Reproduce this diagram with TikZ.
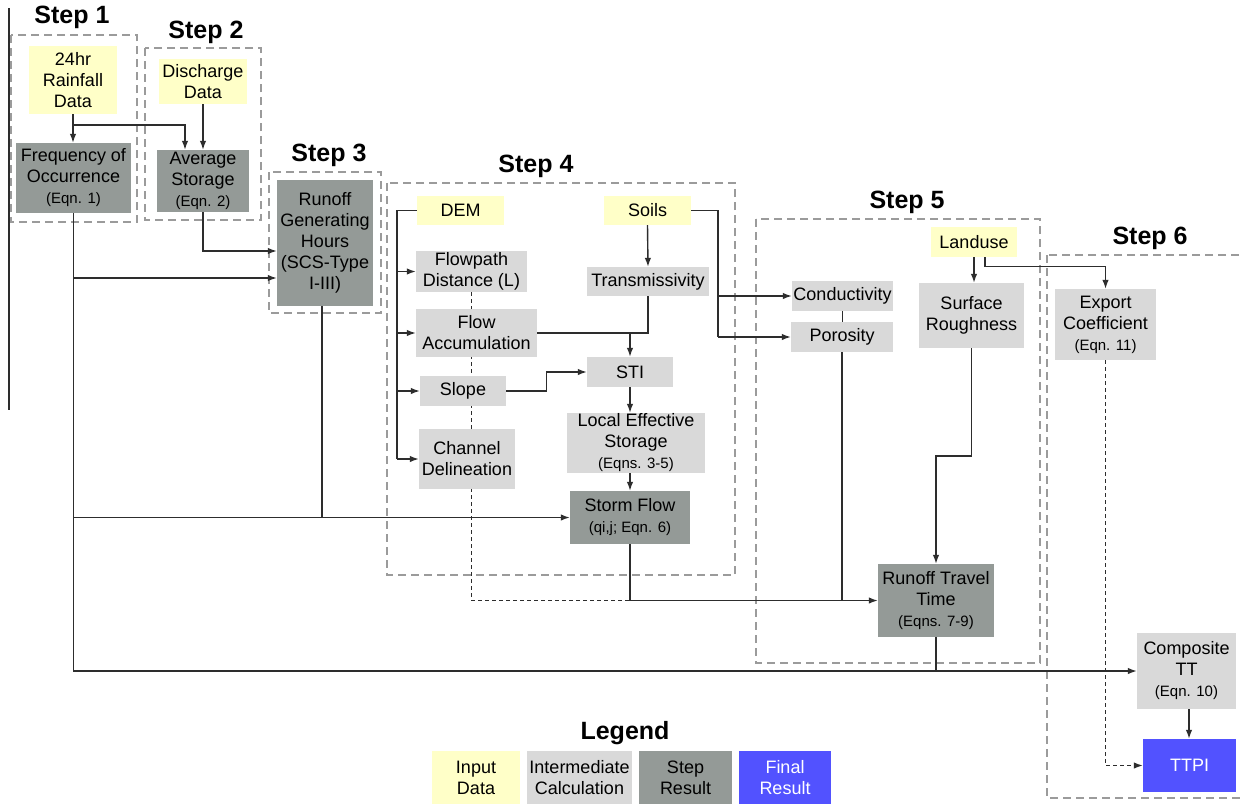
\documentclass[tikz,border=0pt]{standalone}
\usepackage{fontspec}
\setmainfont{Liberation Sans}
\usetikzlibrary{arrows.meta,backgrounds}
\definecolor{inp}{RGB}{255,255,200}
\definecolor{mid}{RGB}{217,217,217}
\definecolor{res}{RGB}{148,154,151}
\definecolor{fin}{RGB}{82,82,255}
\definecolor{stepc}{RGB}{155,155,155}
\definecolor{con}{RGB}{45,45,45}
\newcommand{\eqnsmall}[1]{{\fontsize{15}{18}\selectfont #1}}
\begin{document}
\begin{tikzpicture}[x=1pt,y=1pt,
  box/.style={inner sep=0pt, align=center, font=\fontsize{18}{21}\selectfont, text=black},
  inbox/.style={box, fill=inp},
  midbox/.style={box, fill=mid},
  resbox/.style={box, fill=res},
  finbox/.style={box, fill=fin, text=white},
  steptitle/.style={font=\bfseries\fontsize{25}{28}\selectfont, inner sep=0pt},
  stepframe/.style={draw=stepc, line width=2pt, dash pattern=on 8pt off 5pt},
  conn/.style={draw=con, line width=1.4pt},
  arr/.style={conn, -{Latex[length=9pt,width=6.5pt]}},
  fdash/.style={draw=con, line width=1.3pt, dash pattern=on 4pt off 3pt},
  fdasharr/.style={fdash, -{Latex[length=9pt,width=6.5pt]}}
]
\useasboundingbox (0,0) rectangle (1241,-803);
\clip (0,0) rectangle (1241,-803);

% ---------- nodes ----------
\node[inbox, minimum width=88pt, minimum height=68pt] (rain) at (73,-80) {24hr\\Rainfall\\Data};
\node[resbox, minimum width=115pt, minimum height=70pt] (freq) at (73.5,-178) {Frequency of\\Occurrence\\\eqnsmall{(Eqn. 1)}};
\node[inbox, minimum width=88pt, minimum height=45pt] (dis) at (203,-81.5) {Discharge\\Data};
\node[resbox, minimum width=92pt, minimum height=62pt] (avg) at (203,-181) {Average\\Storage\\\eqnsmall{(Eqn. 2)}};
\node[resbox, minimum width=96pt, minimum height=126pt] (rgh) at (325,-243) {Runoff\\Generating\\Hours\\(SCS-Type\\I-III)};

\node[inbox, minimum width=87pt, minimum height=29pt] (dem) at (460.5,-210.5) {DEM};
\node[inbox, minimum width=87pt, minimum height=29pt] (soils) at (647.5,-210.5) {Soils};
\node[midbox, minimum width=111pt, minimum height=41pt] (flowpath) at (471.5,-271.5) {Flowpath\\Distance (L)};
\node[midbox, minimum width=121pt, minimum height=48pt] (flowacc) at (476.5,-333) {Flow\\Accumulation};
\node[midbox, minimum width=86pt, minimum height=30pt] (slope) at (463,-391) {Slope};
\node[midbox, minimum width=96pt, minimum height=60pt] (chan) at (467,-459) {Channel\\Delineation};
\node[midbox, minimum width=122pt, minimum height=29pt] (trans) at (648,-281.5) {Transmissivity};
\node[midbox, minimum width=86pt, minimum height=30pt] (sti) at (630,-372) {STI};
\node[midbox, minimum width=138pt, minimum height=60pt] (les) at (636,-443) {Local Effective\\Storage\\\eqnsmall{(Eqns. 3-5)}};
\node[resbox, minimum width=120pt, minimum height=53pt] (storm) at (630,-517.5) {Storm Flow\\\eqnsmall{(qi,j; Eqn. 6)}};

\node[inbox, minimum width=86pt, minimum height=30pt] (landuse) at (974,-242) {Landuse};
\node[midbox, minimum width=105pt, minimum height=65pt] (surf) at (971.5,-315.5) {Surface\\Roughness};
\node[midbox, minimum width=101pt, minimum height=30pt] (cond) at (842.5,-296) {Conductivity};
\node[midbox, minimum width=102pt, minimum height=30pt] (poro) at (842,-337) {Porosity};
\node[resbox, minimum width=116pt, minimum height=73pt] (rtt) at (936,-600.5) {Runoff Travel\\Time\\\eqnsmall{(Eqns. 7-9)}};

\node[midbox, minimum width=101pt, minimum height=71pt] (export) at (1105.5,-324.5) {Export\\Coefficient\\\eqnsmall{(Eqn. 11)}};
\node[midbox, minimum width=99pt, minimum height=76pt] (comp) at (1186.5,-671) {Composite\\TT\\\eqnsmall{(Eqn. 10)}};
\node[finbox, minimum width=93pt, minimum height=53pt] (ttpi) at (1189.5,-765.5) {TTPI};

% legend
\node[steptitle] (legt) at (625,-733) {Legend};
\node[inbox, minimum width=88pt, minimum height=54pt] (lg1) at (476,-778) {Input\\Data};
\node[midbox, minimum width=105pt, minimum height=54pt] (lg2) at (579.5,-778) {Intermediate\\Calculation};
\node[resbox, minimum width=93pt, minimum height=54pt] (lg3) at (685.5,-778) {Step\\Result};
\node[finbox, minimum width=92pt, minimum height=54pt] (lg4) at (785,-778) {Final\\Result};

% step titles
\node[steptitle] (t1) at (72,-17) {Step 1};
\node[steptitle] (t2) at (206,-32) {Step 2};
\node[steptitle] (t3) at (329,-155) {Step 3};
\node[steptitle] (t4) at (536,-166) {Step 4};
\node[steptitle] (t5) at (907,-202) {Step 5};
\node[steptitle] (t6) at (1150,-238) {Step 6};

\begin{pgfonlayer}{background}
\fill[white] (0,0) rectangle (1241,-803);
% step frames
\draw[stepframe] (11,-35) rectangle (137,-222);
\draw[stepframe] (145,-48) rectangle (261,-220);
\draw[stepframe] (269,-172) rectangle (381,-313);
\draw[stepframe] (387,-183) rectangle (735,-575);
\draw[stepframe] (756,-219) rectangle (1040,-663);
\draw[stepframe] (1047,-255) rectangle (1250,-798);

% stray left rule
\draw[con, line width=1.4pt] (9,-8) -- (9,-410);

% step 1 / 2 / 3
\coordinate (j1) at (73,-125);
\coordinate (j2) at (73,-278);
\coordinate (j3) at (73,-517.5);
\draw[arr] (rain.south) -- (rain.south |- freq.north);
\draw[arr] (j1) -| ([xshift=-18pt]avg.north);
\draw[arr] (dis.south) -- (avg.north);
\draw[arr] (avg.south) |- ([yshift=-8pt]rgh.west);
\draw[arr] (freq.south) |- (comp.west);
\draw[arr] (j2) -- (j2 -| rgh.west);
\draw[arr] (j3) -- (storm.west);
\draw[conn] ([xshift=-3pt]rgh.south) -- ([xshift=-3pt]rgh.south |- storm.west);

% step 4
\coordinate (dl) at (397,0);
\draw[conn] (dem.west) -| (dl |- chan.west);
\draw[arr] (dl |- flowpath.west) -- (flowpath.west);
\draw[arr] (dl |- flowacc.west) -- (flowacc.west);
\draw[arr] (dl |- slope.west) -- (slope.west);
\draw[arr] (dl |- chan.west) -- (chan.west);
\draw[fdash] (flowpath.south) -- (flowpath.south |- 0,-600.5) -- (storm.south |- 0,-600.5);
\draw[arr] (soils.south) -- (trans.north);
\draw[conn] (flowacc.east) -| (trans.south);
\draw[arr] (sti.north |- flowacc.east) -- (sti.north);
\draw[arr] (slope.east) -- ++(40,0) |- (sti.west);
\draw[arr] (sti.south) -- (sti.south |- les.north);
\draw[arr] ([xshift=-6pt]les.south) -- (storm.north);
\draw[arr] (storm.south) |- (rtt.west);

% soils to step 5
\coordinate (sv) at (718,0);
\draw[conn] (soils.east) -| (sv |- poro.west);
\draw[arr] (sv |- poro.west) -- (poro.west);
\draw[arr] (sv |- cond.west) -- (cond.west);

% step 5
\draw[conn] (cond.south) -- (cond.south |- poro.north);
\draw[conn] (poro.south) -- (poro.south |- rtt.west);
\draw[arr] (landuse.south) -- (landuse.south |- surf.north);
\draw[arr] ([xshift=11pt]landuse.south) -- ++(0,-9) -| (export.north);
\draw[arr] (surf.south) -- (surf.south |- 0,-456) -| (rtt.north);
\draw[conn] (rtt.south) -- (rtt.south |- comp.west);

% step 6
\draw[arr] ([xshift=2.5pt]comp.south) -- ([xshift=2.5pt]comp.south |- ttpi.north);
\draw[fdasharr] (export.south) |- (ttpi.west);
\end{pgfonlayer}
\end{tikzpicture}
\end{document}
